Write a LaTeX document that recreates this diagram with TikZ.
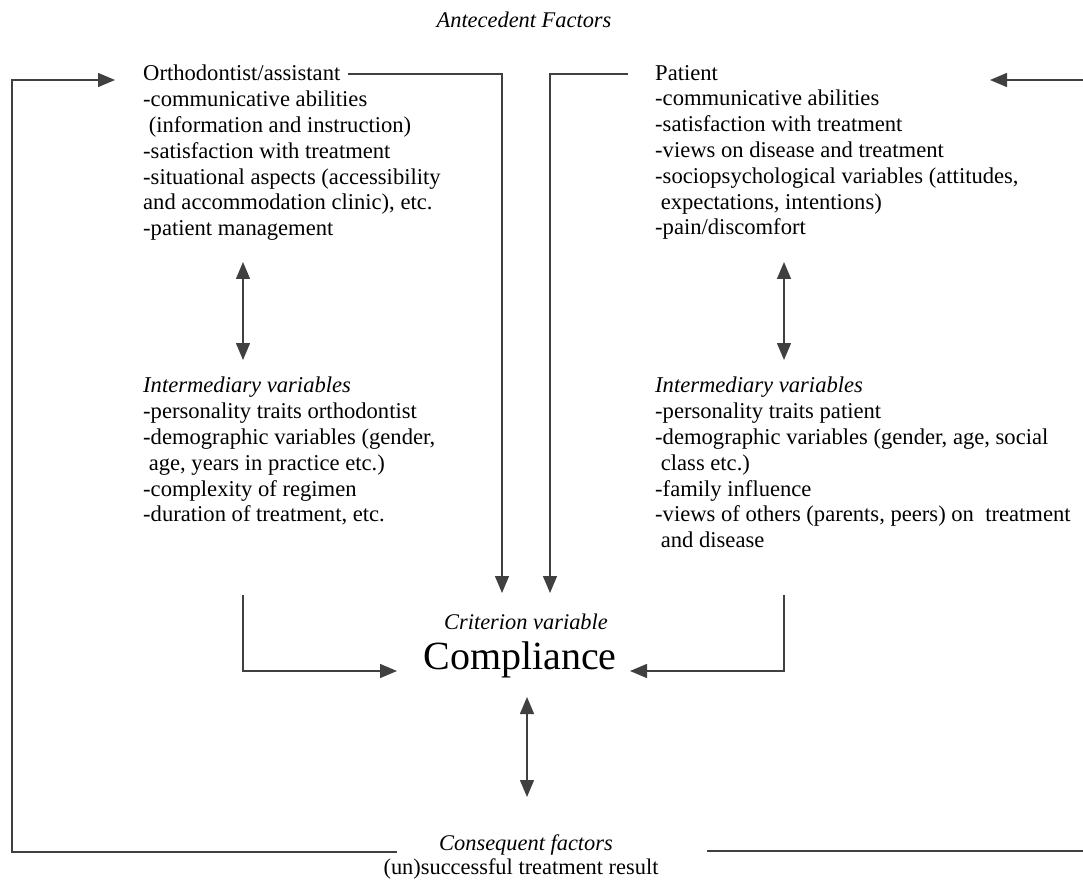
\documentclass[tikz,border=0pt]{standalone}
\usepackage{fontspec}
\setmainfont{Liberation Serif}
\usetikzlibrary{arrows.meta}
\tikzset{
  block/.style={anchor=north west, align=left, inner sep=0pt,
    font=\fontsize{22.6}{25.8}\selectfont},
  headtext/.style={inner sep=0pt, font=\fontsize{22.4}{24}\selectfont\itshape},
  link/.style={line width=1.4pt, draw=black!75},
  tip/.style={-{Triangle[length=17pt,width=14pt]}},
  twotip/.style={{Triangle[length=17pt,width=14pt]}-{Triangle[length=17pt,width=14pt]}},
}
\begin{document}
\begin{tikzpicture}[x=1pt,y=-1pt]
  \useasboundingbox (0,0) rectangle (1083,882);

  % headings
  \node[headtext] (ante) at (524,20) {Antecedent Factors};
  \node[headtext] (crit) at (526,622) {Criterion variable};
  \node[inner sep=0pt, font=\fontsize{40}{44}\selectfont] (comp) at (520,660) {Compliance};
  \node[headtext] (cons) at (526,845) {Consequent factors};
  \node[inner sep=0pt, font=\fontsize{22.4}{24}\selectfont] (result) at (521,869) {(un)successful treatment result};

  % antecedent blocks
  \node[block] (orth) at (143,65) {Orthodontist/assistant\\
    -communicative abilities\\
    \ (information and instruction)\\
    -satisfaction with treatment\\
    -situational aspects (accessibility\\
    and accommodation clinic), etc.\\
    -patient management};
  \node[block] (pat) at (655,65) {Patient\\
    -communicative abilities\\
    -satisfaction with treatment\\
    -views on disease and treatment\\
    -sociopsychological variables (attitudes,\\
    \ expectations, intentions)\\
    -pain/discomfort};

  % intermediary blocks
  \node[block] (orthvar) at (143,377) {\textit{Intermediary variables}\\
    -personality traits orthodontist\\
    -demographic variables (gender,\\
    \ age, years in practice etc.)\\
    -complexity of regimen\\
    -duration of treatment, etc.};
  \node[block] (patvar) at (655,377) {\textit{Intermediary variables}\\
    -personality traits patient\\
    -demographic variables (gender, age, social\\
    \ class etc.)\\
    -family influence\\
    -views of others (parents, peers) on\ \ treatment\\
    \ and disease};

  % corner points
  \coordinate (orthend) at (348,74);
  \coordinate (orthcorner) at (502,74);
  \coordinate (orthdown) at (502,593);
  \coordinate (patend) at (628,74);
  \coordinate (patcorner) at (550,74);
  \coordinate (patdown) at (550,593);
  \coordinate (lup) at (243,262);
  \coordinate (ldown) at (243,360);
  \coordinate (rup) at (784,262);
  \coordinate (rdown) at (784,360);
  \coordinate (lbrk) at (243,595);
  \coordinate (lbrkc) at (243,671);
  \coordinate (rbrk) at (784,595);
  \coordinate (rbrkc) at (784,671);
  \coordinate (compw) at (397,671);
  \coordinate (compe) at (630,671);
  \coordinate (cup) at (527,697);
  \coordinate (cdown) at (527,797);
  \coordinate (consw) at (397,852);
  \coordinate (loopbl) at (12,852);
  \coordinate (looptl) at (12,80);
  \coordinate (orthin) at (115,80);
  \coordinate (conse) at (707,851);
  \coordinate (loopbr) at (1083,851);
  \coordinate (looptr) at (1083,80);
  \coordinate (patin) at (990,80);

  % antecedents to compliance
  \draw[link,tip] (orthend) -- (orthcorner) -- (orthdown);
  \draw[link,tip] (patend) -- (patcorner) -- (patdown);

  % antecedent <-> intermediary
  \draw[link,twotip] (lup) -- (ldown);
  \draw[link,twotip] (rup) -- (rdown);

  % intermediary to compliance
  \draw[link,tip] (lbrk) -- (lbrkc) -- (compw);
  \draw[link,tip] (rbrk) -- (rbrkc) -- (compe);

  % compliance <-> consequent factors
  \draw[link,twotip] (cup) -- (cdown);

  % feedback loops
  \draw[link,tip] (consw) -- (loopbl) -- (looptl) -- (orthin);
  \draw[link] (conse) -- (loopbr);
  \draw[link,tip] (looptr) -- (patin);
\end{tikzpicture}
\end{document}
